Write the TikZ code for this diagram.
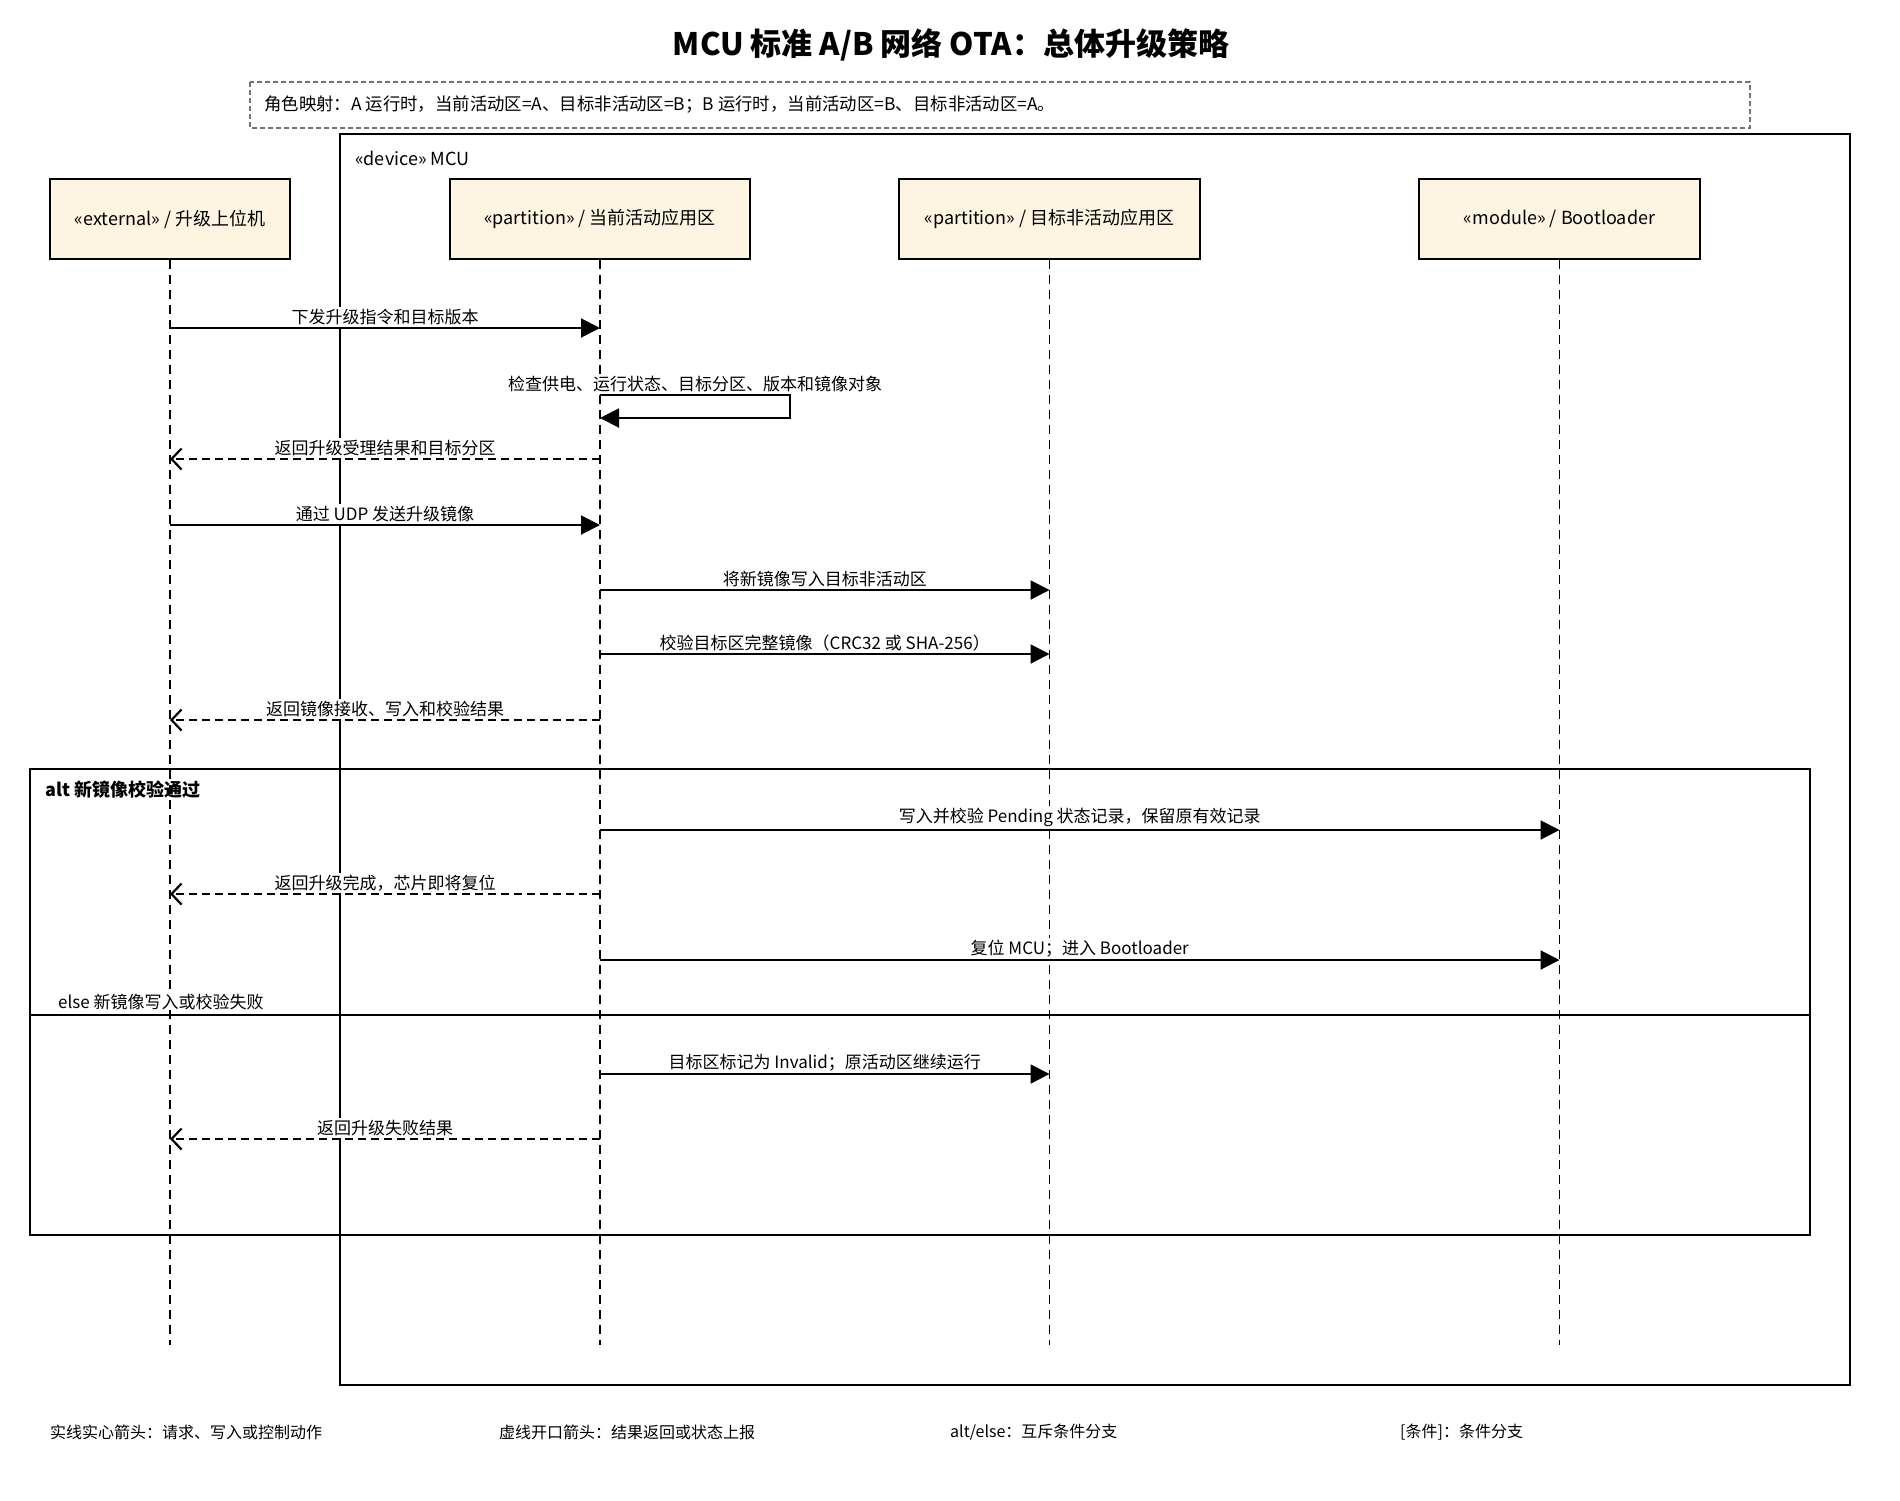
\documentclass[tikz,border=0pt]{standalone}
\usepackage{fontspec}
\setmainfont{Noto Sans CJK SC}
\usepackage{tikz}
\usetikzlibrary{arrows.meta}
\definecolor{boxfill}{RGB}{253,245,226}

\begin{document}
\begin{tikzpicture}
        [x=1pt,y=-1pt,
        participant/.style={rectangle,draw=black,line width=2pt,fill=boxfill,minimum height=80pt,inner sep=0pt,text centered,font=\fontsize{18}{22}\selectfont},
        lifeline/.style={line width=1.6pt,dash pattern=on 9pt off 6pt},
        call/.style={-{Triangle[length=19pt,width=19pt]},line width=2pt},
        reply/.style={-{Straight Barb[length=10pt,width=21pt,line width=2.2pt]},line width=2pt,dash pattern=on 8pt off 5pt},
        msg/.style={fill=white,inner sep=2pt,font=\fontsize{17}{21}\selectfont},
        frame/.style={rectangle,draw=black,line width=2pt,inner sep=0pt},
        plain/.style={anchor=west,inner sep=0pt,font=\fontsize{18}{22}\selectfont},
        note/.style={anchor=west,inner sep=0pt,font=\fontsize{16}{20}\selectfont}]

\useasboundingbox[fill=white] (0,0) rectangle (1900,1500);

% title and role mapping
\node[font=\fontsize{31}{36}\selectfont\bfseries] (title) at (951,45) {MCU 标准 A/B 网络 OTA：总体升级策略};
\draw[draw=black!55,line width=1.5pt,dash pattern=on 5pt off 3pt] (250,82) rectangle (1750,128);
\node[plain,font=\fontsize{17.4}{20}\selectfont] (mapping) at (264,105) {角色映射：A 运行时，当前活动区=A、目标非活动区=B；B 运行时，当前活动区=B、目标非活动区=A。};

% device boundary
\node[frame,line width=2.5pt,minimum width=1510pt,minimum height=1251pt] (mcu) at (1095,759.5) {};
\node[plain] (mculabel) at (355,158) {«device» MCU};

% participants
\node[participant,minimum width=240pt] (ext) at (170,219) {«external» / 升级上位机};
\node[participant,minimum width=300pt] (act) at (600,219) {«partition» / 当前活动应用区};
\node[participant,minimum width=301pt] (inact) at (1049.5,219) {«partition» / 目标非活动应用区};
\node[participant,minimum width=281pt] (boot) at (1559.5,219) {«module» / Bootloader};

% lifelines
\coordinate (bottom) at (0,1345);
\foreach \p in {ext,act,inact,boot}
    \draw[lifeline] (\p.south) -- (\p.south |- bottom);

% alt frame
\node[frame,minimum width=1780pt,minimum height=466pt] (alt) at (920,1002) {};
\node[plain,font=\fontsize{18}{22}\selectfont\bfseries] (altlabel) at (45,790) {alt 新镜像校验通过};
\coordinate (els) at (0,1015);
\draw[line width=2pt] (alt.west |- els) -- (alt.east |- els);
\node[plain,fill=white,font=\fontsize{17}{21}\selectfont] (elselabel) at (58,1002) {else 新镜像写入或校验失败};

% message rows
\coordinate (m1) at (0,328);
\coordinate (m2) at (0,395);
\coordinate (m2b) at (0,418);
\coordinate (m3) at (0,459);
\coordinate (m4) at (0,525);
\coordinate (m5) at (0,590);
\coordinate (m6) at (0,654);
\coordinate (m7) at (0,720);
\coordinate (m8) at (0,830);
\coordinate (m9) at (0,894);
\coordinate (m10) at (0,960);
\coordinate (m11) at (0,1074);
\coordinate (m12) at (0,1139);

%arrows
\draw[call] (ext |- m1) -- node[msg,above] {下发升级指令和目标版本} (act |- m1);
\draw[call] (act |- m2) -- node[msg,above] {检查供电、运行状态、目标分区、版本和镜像对象} ++(190,0) -- ++(0,23) -- (act |- m2b);
\draw[reply] (act |- m3) -- node[msg,above] {返回升级受理结果和目标分区} (ext |- m3);
\draw[call] (ext |- m4) -- node[msg,above] {通过 UDP 发送升级镜像} (act |- m4);
\draw[call] (act |- m5) -- node[msg,above] {将新镜像写入目标非活动区} (inact |- m5);
\draw[call] (act |- m6) -- node[msg,above] {校验目标区完整镜像（CRC32 或 SHA-256）} (inact |- m6);
\draw[reply] (act |- m7) -- node[msg,above] {返回镜像接收、写入和校验结果} (ext |- m7);
\draw[call] (act |- m8) -- node[msg,above] {写入并校验 Pending 状态记录，保留原有效记录} (boot |- m8);
\draw[reply] (act |- m9) -- node[msg,above] {返回升级完成，芯片即将复位} (ext |- m9);
\draw[call] (act |- m10) -- node[msg,above] {复位 MCU；进入 Bootloader} (boot |- m10);
\draw[call] (act |- m11) -- node[msg,above] {目标区标记为 Invalid；原活动区继续运行} (inact |- m11);
\draw[reply] (act |- m12) -- node[msg,above] {返回升级失败结果} (ext |- m12);

% legend
\node[note] (legend1) at (50,1432) {实线实心箭头：请求、写入或控制动作};
\node[note] (legend2) at (499,1432) {虚线开口箭头：结果返回或状态上报};
\node[note] (legend3) at (950,1432) {alt/else：互斥条件分支};
\node[note] (legend4) at (1400,1432) {[条件]：条件分支};

\end{tikzpicture}
\end{document}
